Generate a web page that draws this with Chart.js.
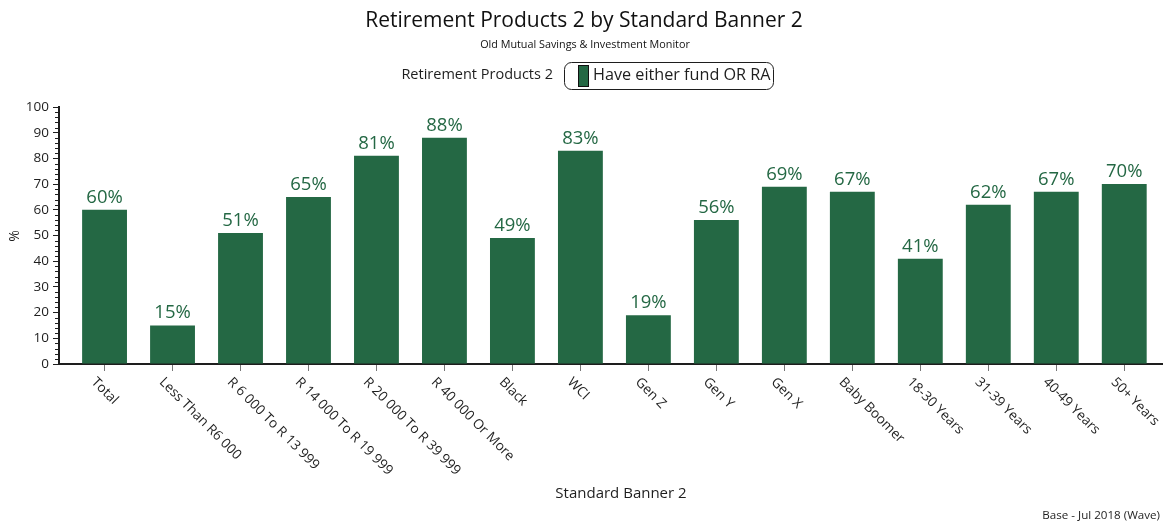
<!DOCTYPE html>
<html>
<head>
<meta charset="utf-8">
<title>Retirement Products 2 by Standard Banner 2</title>
<script src="https://cdn.jsdelivr.net/npm/chart.js@4.4.0/dist/chart.umd.min.js"></script>
<style>
  html, body { margin: 0; padding: 0; background: #fff; }
  #wrap { width: 1163px; height: 522px; }
</style>
</head>
<body>
<div id="wrap"><canvas id="chart" width="1163" height="522"></canvas></div>
<script>
// Retirement products by banner
const categories = ["Total", "Less Than R6 000", "R 6 000 To R 13 999", "R 14 000 To R 19 999",
    "R 20 000 To R 39 999", "R 40 000 Or More", "Black", "WCI", "Gen Z", "Gen Y", "Gen X",
    "Baby Boomer", "18-30 Years", "31-39 Years", "40-49 Years", "50+ Years"]
const haveFundOrRA = [60, 15, 51, 65, 81, 88, 49, 83, 19, 56, 69, 67, 41, 62, 67, 70]

const seriesName = "Have either fund OR RA"
const chartTitle = "Retirement Products 2 by Standard Banner 2"
const chartSubtitle = "Old Mutual Savings & Investment Monitor"
const legendTitle = "Retirement Products 2"
const xTitle = "Standard Banner 2"
const yTitle = "%"
const footnote = "Base - Jul 2018 (Wave)"

const FONT = "'Open Sans', sans-serif"
const GREEN = '#246844'
const INK = '#1e1e1e'

// titles, legend box, rotated category labels, value labels, minor ticks
const decorations = {
    id: 'decorations',
    afterDatasetsDraw(chart) {
        const ctx = chart.ctx
        const meta = chart.getDatasetMeta(0)
        ctx.save()
        ctx.font = `18.5px ${FONT}`
        ctx.fillStyle = GREEN
        ctx.textAlign = 'center'
        ctx.textBaseline = 'bottom'
        meta.data.forEach((bar, i) => {
            ctx.fillText(`${haveFundOrRA[i]}%`, bar.x, bar.y - 3)
        })
        ctx.restore()
    },
    afterDraw(chart) {
        const ctx = chart.ctx
        const x = chart.scales.x
        const y = chart.scales.y
        ctx.save()

        // minor ticks every 2 units
        ctx.strokeStyle = INK
        ctx.lineWidth = 1
        for (let v = 0; v <= 100; v += 2) {
            if (v % 10 === 0) continue
            const py = Math.round(y.getPixelForValue(v)) + 0.5
            ctx.beginPath()
            ctx.moveTo(x.left - 4, py)
            ctx.lineTo(x.left, py)
            ctx.stroke()
        }

        // rotated category labels
        ctx.font = `13.6px ${FONT}`
        ctx.fillStyle = INK
        ctx.textAlign = 'left'
        ctx.textBaseline = 'middle'
        categories.forEach((name, i) => {
            const px = x.getPixelForValue(i)
            ctx.save()
            ctx.translate(px - 11, x.top + 16)
            ctx.rotate(Math.PI / 4)
            ctx.fillText(name, 0, 0)
            ctx.restore()
        })

        // titles
        ctx.textAlign = 'center'
        ctx.fillStyle = '#111'
        ctx.font = `21px ${FONT}`
        ctx.fillText(chartTitle, 584, 21)
        ctx.font = `10.8px ${FONT}`
        ctx.fillText(chartSubtitle, 585, 45)

        // legend
        ctx.font = `14.5px ${FONT}`
        ctx.textAlign = 'right'
        ctx.fillStyle = INK
        ctx.fillText(legendTitle, 553, 75)
        ctx.beginPath()
        ctx.roundRect(564.5, 62.5, 209, 27, 7)
        ctx.strokeStyle = INK
        ctx.stroke()
        ctx.fillStyle = GREEN
        ctx.fillRect(578.5, 65.5, 10, 21)
        ctx.strokeStyle = '#111'
        ctx.strokeRect(578.5, 65.5, 10, 21)
        ctx.font = `16.2px ${FONT}`
        ctx.textAlign = 'left'
        ctx.fillStyle = INK
        ctx.fillText(seriesName, 593, 75)

        // axis titles
        ctx.font = `15px ${FONT}`
        ctx.textAlign = 'center'
        ctx.fillText(xTitle, 621, 494)
        ctx.save()
        ctx.translate(15, 236)
        ctx.rotate(-Math.PI / 2)
        ctx.font = `14px ${FONT}`
        ctx.fillText(yTitle, 0, 0)
        ctx.restore()

        // footnote
        ctx.font = `11.6px ${FONT}`
        ctx.textAlign = 'right'
        ctx.fillText(footnote, 1160, 516)

        ctx.restore()
    }
}

const ctx = document.getElementById("chart").getContext("2d")
new Chart(ctx, {
    type: 'bar',
    data: {
        datasets: [{
            label: seriesName,
            data: haveFundOrRA.map((v, i) => ({ x: i, y: v })),
            backgroundColor: GREEN,
            borderWidth: 0,
            barPercentage: 0.66,
            categoryPercentage: 1
        }]
    },
    options: {
        responsive: false,
        animation: false,
        layout: { padding: { top: 107, right: 0, bottom: 0, left: 0 } },
        plugins: {
            legend: { display: false },
            tooltip: { enabled: false },
            title: { display: false }
        },
        scales: {
            x: {
                type: 'linear',
                min: -0.67,
                max: 15.57,
                offset: false,
                afterFit(scale) { scale.height = 158 },
                border: { color: INK, width: 2 },
                grid: { offset: false, drawOnChartArea: false, tickLength: 7, color: '#777' },
                ticks: { stepSize: 1, includeBounds: false, display: false }
            },
            y: {
                min: 0,
                max: 100,
                afterFit(scale) { scale.width = 59 },
                border: { color: INK, width: 2 },
                grid: { drawOnChartArea: false, tickLength: 6, color: INK },
                ticks: {
                    stepSize: 10,
                    padding: 4,
                    color: INK,
                    font: { family: FONT, size: 13.5 }
                }
            }
        }
    },
    plugins: [decorations]
});
</script>
</body>
</html>
